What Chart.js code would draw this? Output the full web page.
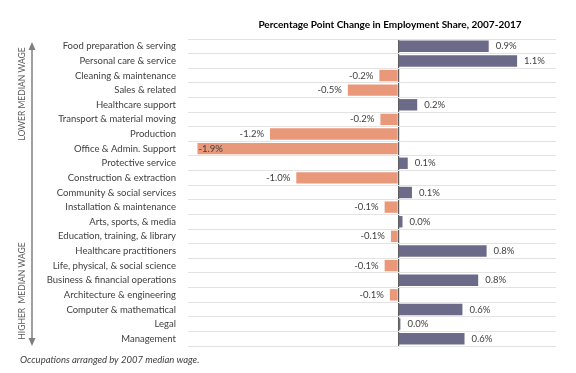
<!DOCTYPE html>
<html>
<head>
<meta charset="utf-8">
<script src="https://cdn.jsdelivr.net/npm/chart.js@4"></script>
<style>
  html, body { margin: 0; padding: 0; background: #ffffff; }
  #wrap { width: 576px; height: 373px; position: relative; }
</style>
</head>
<body>
<div id="wrap"><canvas id="shareChart"></canvas></div>
<script>
// occupations, ordered by 2007 median wage (low -> high)
const occupations = [
    'Food preparation & serving', 'Personal care & service', 'Cleaning & maintenance',
    'Sales & related', 'Healthcare support', 'Transport & material moving', 'Production',
    'Office & Admin. Support', 'Protective service', 'Construction & extraction',
    'Community & social services', 'Installation & maintenance', 'Arts, sports, & media',
    'Education, training, & library', 'Healthcare practitioners', 'Life, physical, & social science',
    'Business & financial operations', 'Architecture & engineering', 'Computer & mathematical',
    'Legal', 'Management'
];

// percentage point change in employment share, 2007-2017
const shareChange = [
    0.86, 1.13, -0.18, -0.48, 0.18, -0.17, -1.22, -1.91, 0.09, -0.97,
    0.13, -0.13, 0.04, -0.07, 0.84, -0.13, 0.76, -0.08, 0.61, 0.02, 0.63
];

const axisMin = -2.0;
const axisMax = 1.5;

const UP_COLOR = '#6b6a88';
const DOWN_COLOR = '#e9997a';
const TEXT_COLOR = '#404040';
const FONT = 'Lato';

// value labels at the bar ends
const barLabels = {
    id: 'barLabels',
    afterDatasetsDraw(chart) {
        const ctx = chart.ctx;
        const area = chart.chartArea;
        const meta = chart.getDatasetMeta(0);
        ctx.save();
        ctx.font = '9.5px ' + FONT;
        ctx.fillStyle = TEXT_COLOR;
        ctx.textBaseline = 'middle';
        meta.data.forEach((bar, i) => {
            const v = shareChange[i];
            const txt = v.toFixed(1) + '%';
            const w = ctx.measureText(txt).width;
            if (v >= 0) {
                ctx.textAlign = 'left';
                ctx.fillText(txt, bar.x + 7, bar.y);
            } else if (bar.x - 6 - w < area.left) {
                ctx.textAlign = 'left';
                ctx.fillText(txt, bar.x + 1, bar.y);
            } else {
                ctx.textAlign = 'right';
                ctx.fillText(txt, bar.x - 6, bar.y);
            }
        });
        ctx.restore();
    }
};

// title, wage arrow and footnote
const decorations = {
    id: 'decorations',
    afterDraw(chart) {
        const ctx = chart.ctx;
        const area = chart.chartArea;
        ctx.save();

        ctx.fillStyle = '#000000';
        ctx.font = 'bold 10px ' + FONT;
        ctx.textAlign = 'center';
        ctx.textBaseline = 'middle';
        ctx.fillText('Percentage Point Change in Employment Share, 2007-2017', 390, 25);

        // double headed arrow
        const ax = 32, top = area.top + 3, bottom = area.bottom;
        ctx.strokeStyle = '#7f7f7f';
        ctx.fillStyle = '#7f7f7f';
        ctx.lineWidth = 1.5;
        ctx.beginPath();
        ctx.moveTo(ax, top + 5);
        ctx.lineTo(ax, bottom - 5);
        ctx.stroke();
        ctx.beginPath();
        ctx.moveTo(ax, top); ctx.lineTo(ax - 3.5, top + 8); ctx.lineTo(ax + 3.5, top + 8);
        ctx.closePath(); ctx.fill();
        ctx.beginPath();
        ctx.moveTo(ax, bottom); ctx.lineTo(ax - 3.5, bottom - 8); ctx.lineTo(ax + 3.5, bottom - 8);
        ctx.closePath(); ctx.fill();

        ctx.fillStyle = '#595959';
        ctx.font = '8.5px ' + FONT;
        ctx.textAlign = 'center';
        ctx.save();
        ctx.translate(22, 94);
        ctx.rotate(-Math.PI / 2);
        ctx.fillText('LOWER MEDIAN WAGE', 0, 0);
        ctx.restore();
        ctx.save();
        ctx.translate(22, 291);
        ctx.rotate(-Math.PI / 2);
        ctx.fillText('HIGHER  MEDIAN WAGE', 0, 0);
        ctx.restore();

        ctx.fillStyle = TEXT_COLOR;
        ctx.font = 'italic 9.5px ' + FONT;
        ctx.textAlign = 'left';
        ctx.fillText('Occupations arranged by 2007 median wage.', 20, 360);
        ctx.restore();
    }
};

new Chart(document.getElementById('shareChart'), {
    type: 'bar',
    data: {
        labels: occupations,
        datasets: [{
            data: shareChange,
            backgroundColor: shareChange.map(v => v >= 0 ? UP_COLOR : DOWN_COLOR),
            borderWidth: 0,
            barPercentage: 0.78,
            categoryPercentage: 1.0
        }]
    },
    options: {
        indexAxis: 'y',
        responsive: true,
        maintainAspectRatio: false,
        animation: false,
        layout: { padding: { top: 39, bottom: 27, right: 20, left: 0 } },
        plugins: {
            legend: { display: false },
            tooltip: { enabled: false }
        },
        scales: {
            x: {
                min: axisMin,
                max: axisMax,
                ticks: { display: false, stepSize: 0.5 },
                grid: {
                    drawTicks: false,
                    lineWidth: 1.2,
                    color: c => (c.tick && c.tick.value === 0) ? '#5a5a5a' : 'rgba(0,0,0,0)'
                },
                border: { display: false },
                afterFit: s => { s.height = 0; }
            },
            y: {
                ticks: {
                    color: TEXT_COLOR,
                    font: { family: FONT, size: 9.5 },
                    padding: 12,
                    autoSkip: false
                },
                grid: { color: '#e3e3e3', drawTicks: false, offset: true },
                border: { display: false },
                afterFit: s => { s.width = 188; }
            }
        }
    },
    plugins: [barLabels, decorations]
});
</script>
</body>
</html>
